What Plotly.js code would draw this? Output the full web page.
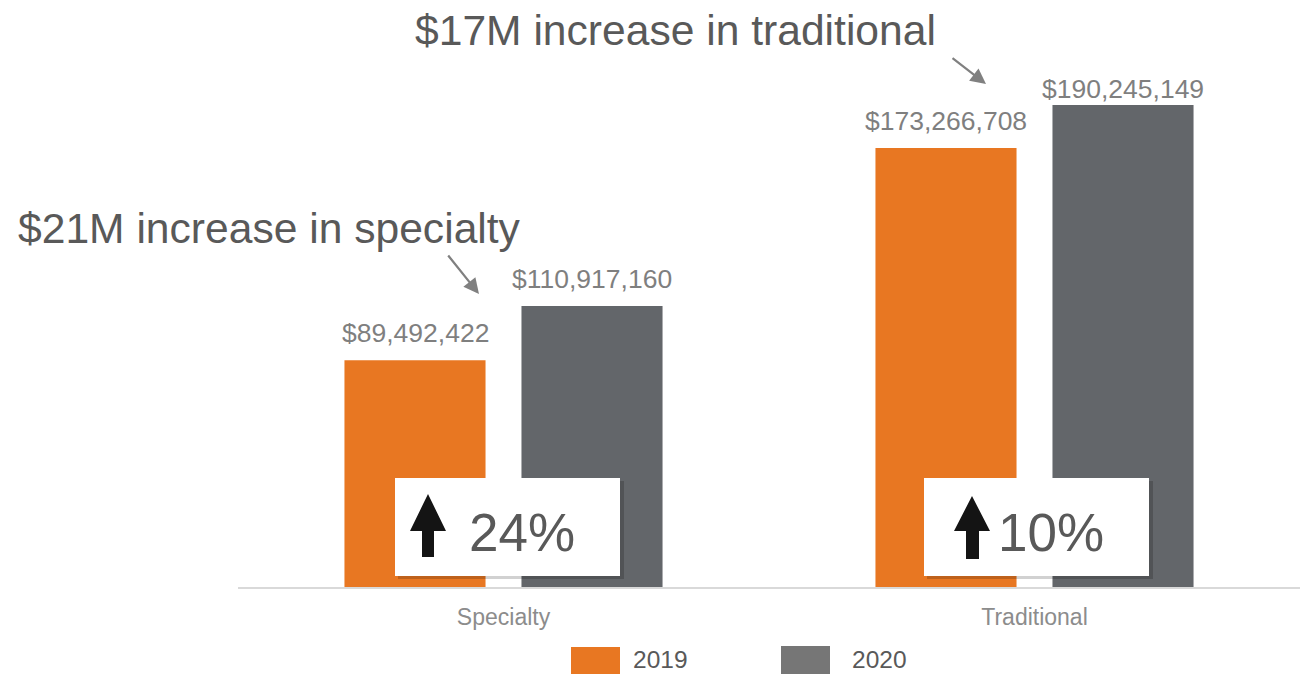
<!DOCTYPE html>
<html>
<head>
<meta charset="utf-8">
<script src="https://cdn.plot.ly/plotly-3.0.1.min.js"></script>
<style>html,body{margin:0;padding:0;background:#fff;}#chart{width:1307px;height:674px;}</style>
</head>
<body>
<div id="chart"></div>
<script>
var categories = ['Specialty', 'Traditional'];
var seriesNames = ['2019', '2020'];
var values2019 = [89492422, 173266708];
var values2020 = [110917160, 190245149];
var headlines = ['$21M increase in specialty', '$17M increase in traditional'];
var changeLabels = ['24%', '10%'];

var W = 1307, H = 674, ML = 238, MR = 7, MT = 20, MB = 87;
var PW = W - ML - MR, PH = H - MT - MB;
function px(x) { return (x - ML) / PW; }
function py(y) { return (H - MB - y) / PH; }

var orange = '#e87722', gray = '#63666a', legendGray = '#767676';
var FONT = '"Liberation Sans", Arial, sans-serif';

var traces = [
  {type: 'bar', name: seriesNames[0], x: categories, y: values2019, marker: {color: orange}, hoverinfo: 'none'},
  {type: 'bar', name: seriesNames[1], x: categories, y: values2020, marker: {color: gray}, hoverinfo: 'none'}
];

var fmt = function (v) { return '$' + v.toLocaleString('en-US'); };

var annotations = [];
var shapes = [];
// value labels (label offsets per series/category, in pixels)
var labelYShift = [[10, 10], [10, -1]];
categories.forEach(function (c, i) {
  [values2019, values2020].forEach(function (arr, k) {
    annotations.push({
      x: c, y: arr[i], xref: 'x', yref: 'y', xshift: k === 0 ? -88.5 : 88.5,
      yanchor: 'bottom', yshift: labelYShift[k][i], showarrow: false, text: fmt(arr[i]),
      font: {family: FONT, size: 26.5, color: '#7f7f7f'}
    });
  });
});
// headlines
annotations.push({xref: 'paper', yref: 'paper', x: px(269), y: py(228), text: headlines[0], showarrow: false,
  xanchor: 'center', yanchor: 'middle', font: {family: FONT, size: 42.6, color: '#595959'}});
annotations.push({xref: 'paper', yref: 'paper', x: px(675), y: py(30), text: headlines[1], showarrow: false,
  xanchor: 'center', yanchor: 'middle', font: {family: FONT, size: 42.6, color: '#595959'}});
// pointer arrows
annotations.push({xref: 'paper', yref: 'paper', x: px(479), y: py(294), ax: -32, ay: -40, text: '',
  showarrow: true, arrowhead: 2, arrowsize: 1.4, arrowwidth: 2.2, arrowcolor: '#808080', standoff: 0});
annotations.push({xref: 'paper', yref: 'paper', x: px(986), y: py(84), ax: -35, ay: -27, text: '',
  showarrow: true, arrowhead: 2, arrowsize: 1.4, arrowwidth: 2.2, arrowcolor: '#808080', standoff: 0});

// change boxes
var boxes = [
  {x0: 395, x1: 620, tx: 522, ah: [410, 446, 428, 494, 531], sh: [422, 434, 557]},
  {x0: 924, x1: 1149, tx: 1051, ah: [954, 990, 972, 496, 531], sh: [966, 979, 559]}
];
boxes.forEach(function (b, i) {
  shapes.push({type: 'rect', xref: 'paper', yref: 'paper', layer: 'above',
    x0: px(b.x0 + 3), x1: px(b.x1 + 4), y0: py(579), y1: py(481),
    fillcolor: 'rgba(0,0,0,0.18)', line: {width: 0}});
  shapes.push({type: 'rect', xref: 'paper', yref: 'paper', layer: 'above',
    x0: px(b.x0), x1: px(b.x1), y0: py(576), y1: py(478),
    fillcolor: '#ffffff', line: {width: 0}});
  var a = b.ah, s = b.sh;
  var path = 'M' + px(a[2]) + ',' + py(a[3]) + ' L' + px(a[1]) + ',' + py(a[4]) + ' L' + px(s[1]) + ',' + py(a[4]) +
    ' L' + px(s[1]) + ',' + py(s[2]) + ' L' + px(s[0]) + ',' + py(s[2]) + ' L' + px(s[0]) + ',' + py(a[4]) +
    ' L' + px(a[0]) + ',' + py(a[4]) + ' Z';
  shapes.push({type: 'path', xref: 'paper', yref: 'paper', layer: 'above', path: path,
    fillcolor: '#141414', line: {width: 0}});
  annotations.push({xref: 'paper', yref: 'paper', x: px(b.tx), y: py(532), text: changeLabels[i], showarrow: false,
    xanchor: 'center', yanchor: 'middle', font: {family: FONT, size: 53, color: '#595959'}});
});

// legend
var legendItems = [
  {x0: 571, x1: 620, y0: 647, color: orange, tx: 632},
  {x0: 781, x1: 830, y0: 646, color: legendGray, tx: 851}
];
legendItems.forEach(function (l, i) {
  shapes.push({type: 'rect', xref: 'paper', yref: 'paper', x0: px(l.x0), x1: px(l.x1), y0: py(674), y1: py(l.y0),
    fillcolor: l.color, line: {width: 0}});
  annotations.push({xref: 'paper', yref: 'paper', x: px(l.tx), y: py(659), text: seriesNames[i], showarrow: false,
    xanchor: 'left', yanchor: 'middle', borderpad: 0,
    font: {family: FONT, size: 24.5, color: '#595959'}});
});

var layout = {
  width: W, height: H,
  margin: {l: ML, r: MR, t: MT, b: MB, pad: 0},
  paper_bgcolor: '#ffffff', plot_bgcolor: '#ffffff',
  barmode: 'group', bargap: 0.3333, bargroupgap: 0.203,
  showlegend: false,
  font: {family: FONT},
  xaxis: {
    type: 'category', range: [-0.5, 1.5], showline: true, linecolor: '#d9d9d9', linewidth: 1.5,
    showgrid: false, zeroline: false, ticks: '', ticklabelstandoff: 9,
    tickfont: {family: FONT, size: 23, color: '#8c8c8c'}
  },
  yaxis: {range: [0, 223790000], visible: false, showgrid: false, zeroline: false},
  annotations: annotations,
  shapes: shapes
};

Plotly.newPlot('chart', traces, layout, {displayModeBar: false, staticPlot: true});
</script>
</body>
</html>
